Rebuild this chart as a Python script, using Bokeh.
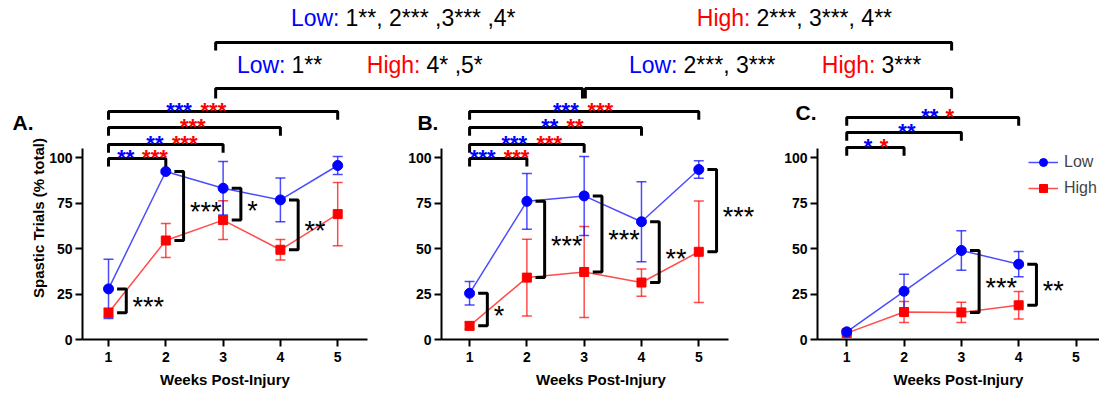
import math
from bokeh.plotting import figure
from bokeh.models import (ColumnDataSource, Whisker, TeeHead, FixedTicker, Range1d,
                          Label, Legend, LegendItem, Title, GridBox)
from bokeh.embed import file_html
from bokeh.resources import INLINE

# ------------------------------------------------------------------ data
weeks_ab = [1, 2, 3, 4, 5]
weeks_c = [1, 2, 3, 4]

a_low = [27.8, 92.3, 83.1, 76.7, 95.6]
a_low_err = [16.3, 1.0, 14.7, 12.0, 4.9]
a_high = [14.7, 54.4, 65.6, 49.3, 68.9]
a_high_err = [2.5, 9.4, 10.7, 5.6, 17.4]

b_low = [25.4, 75.9, 78.9, 64.7, 93.4]
b_low_err = [6.4, 15.3, 21.7, 22.0, 4.8]
b_high = [7.5, 34.0, 37.1, 31.3, 48.2]
b_high_err = [2.0, 21.1, 25.0, 7.5, 27.9]

c_low = [4.2, 26.5, 48.9, 41.4]
c_low_err = [1.0, 9.4, 10.8, 6.9]
c_high = [3.5, 15.1, 14.9, 18.8]
c_high_err = [1.0, 5.8, 5.6, 7.6]

y_ticks = [0, 25, 50, 75, 100]
x_ticks = [1, 2, 3, 4, 5]
series_names = ["Low", "High"]
panel_names = ["A.", "B.", "C."]
x_title = "Weeks Post-Injury"
y_title = "Spastic Trials (% total)"

# Low vs High at each week
a_cmp_weeks = [1, 2, 3, 4]
a_cmp_stars = ["***", "***", "*", "**"]
b_cmp_weeks = [1, 2, 3, 4, 5]
b_cmp_stars = ["*", "***", "***", "**", "***"]
c_cmp_weeks = [3, 4]
c_cmp_stars = ["***", "**"]

# each week vs week 1 (end week, Low stars, High stars)
a_vs1_end = [5, 4, 3, 2]
a_vs1_low = ["***", "", "**", "**"]
a_vs1_high = ["***", "***", "***", "***"]
b_vs1_end = [5, 4, 3, 2]
b_vs1_low = ["***", "**", "***", "***"]
b_vs1_high = ["***", "**", "***", "***"]
c_vs1_end = [4, 3, 2]
c_vs1_low = ["**", "**", "*"]
c_vs1_high = ["*", "", "*"]

# comparisons between panels
top_low_text = "1**, 2*** ,3*** ,4*"
top_high_text = "2***, 3***, 4**"
ab_low_text = "1**"
ab_high_text = "4* ,5*"
bc_low_text = "2***, 3***"
bc_high_text = "3***"

# ------------------------------------------------------------------ style / layout
BLUE = "#0000ff"
RED = "#ff0000"
FONT = "Liberation Sans"
TOTAL_W = 1099
TOTAL_H = 393
PANEL_TOP = 96         # panels start here ...
TOP_H = 140            # ... and the top band (drawn underneath) ends here
BORDER_BOTTOM = 54
PX_PER_UNIT = 1.82     # vertical pixels per % point
FRAME_BOTTOM = TOTAL_H - BORDER_BOTTOM
Y_END = (FRAME_BOTTOM - PANEL_TOP) / PX_PER_UNIT

layout_a = dict(fig_left=0, width=377, bl=82, br=10, xs=0.546, xe=5.52, ax_end=5.52)
layout_b = dict(fig_left=377, width=383, bl=64, br=0, xs=0.51, xe=6.077, ax_end=5.52)
layout_c = dict(fig_left=760, width=339, bl=57, br=0, xs=0.49, xe=5.41, ax_end=5.41)

# bracket levels (value units) and label centres (week units)
levels_ab = [125.3, 116.5, 107.1, 99.5]
levels_c = [122.0, 113.7, 105.5]
a_lab_low_x = [2.23, None, 1.81, 1.30]
a_lab_high_x = [2.83, 2.47, 2.33, 1.81]
b_lab_low_x = [2.68, 2.40, 1.78, 1.23]
b_lab_high_x = [3.28, 2.84, 2.39, 1.82]
c_lab_low_x = [2.45, 2.05, 1.37]
c_lab_high_x = [2.80, None, 1.65]
name_pos_a = (-0.676, 119.2)
name_pos_b = (0.09, 119.2)
name_pos_c = (0.106, 124.7)

# ------------------------------------------------------------------ top band
top = figure(width=TOTAL_W, height=TOP_H, x_range=Range1d(0, TOTAL_W),
             y_range=Range1d(TOP_H, 0), toolbar_location=None, output_backend="svg",
             min_border=0)
top.frame_align = False
top.axis.visible = False
top.grid.visible = False
top.outline_line_color = None
top.background_fill_color = None
top.border_fill_color = None


def gx(lay, week):
    fw = lay["width"] - lay["bl"] - lay["br"]
    return lay["fig_left"] + lay["bl"] + (week - lay["xs"]) * fw / (lay["xe"] - lay["xs"])


def gy(val):
    return FRAME_BOTTOM - val * PX_PER_UNIT


def add_series(p, weeks, vals, errs, color, marker, size):
    src = ColumnDataSource(dict(x=weeks, y=vals,
                                up=[v + e for v, e in zip(vals, errs)],
                                lo=[v - e for v, e in zip(vals, errs)]))
    ln = p.line("x", "y", source=src, line_color=color, line_width=1.5, line_alpha=0.7)
    head = dict(size=10, line_color=color, line_width=1.5, line_alpha=0.7)
    w = Whisker(source=src, base="x", upper="up", lower="lo", dimension="height",
                line_color=color, line_width=1.5, line_alpha=0.7,
                upper_head=TeeHead(**head), lower_head=TeeHead(**head))
    p.add_layout(w)
    sc = p.scatter("x", "y", source=src, marker=marker, size=size,
                   fill_color=color, line_color=color)
    return ln, sc


def make_panel(lay, name, name_pos, weeks, low, low_err, high, high_err,
               cmp_weeks, cmp_stars, vs1_end, vs1_low, vs1_high,
               levels, lab_low_x, lab_high_x, with_ytitle, with_legend):
    p = figure(width=lay["width"], height=TOTAL_H - PANEL_TOP,
               x_range=Range1d(lay["xs"], lay["xe"]), y_range=Range1d(0, Y_END),
               toolbar_location=None, output_backend="svg",
               min_border_left=lay["bl"], min_border_right=lay["br"],
               min_border_top=0, min_border_bottom=BORDER_BOTTOM)
    p.frame_align = False
    p.outline_line_color = None
    p.grid.visible = False
    p.background_fill_color = None
    p.border_fill_color = None

    for ax in (p.xaxis[0], p.yaxis[0]):
        ax.axis_line_width = 2
        ax.axis_line_color = "black"
        ax.major_tick_line_width = 2
        ax.major_tick_line_color = "black"
        ax.major_tick_out = 7
        ax.major_tick_in = 0
        ax.minor_tick_out = 0
        ax.minor_tick_in = 0
        ax.major_label_text_font = FONT
        ax.major_label_text_font_style = "bold"
        ax.major_label_text_font_size = "14px"
        ax.major_label_text_color = "black"
    p.yaxis.ticker = FixedTicker(ticks=y_ticks)
    p.yaxis.bounds = (0, 105)
    p.yaxis.major_label_standoff = 3
    p.xaxis.ticker = FixedTicker(ticks=x_ticks)
    p.xaxis.bounds = (lay["xs"], lay["ax_end"])
    p.xaxis.major_label_standoff = 5
    p.xaxis.axis_label = x_title
    p.xaxis.axis_label_text_font = FONT
    p.xaxis.axis_label_text_font_style = "bold"
    p.xaxis.axis_label_text_font_size = "15px"
    p.xaxis.axis_label_text_color = "black"
    p.xaxis.axis_label_standoff = 6

    h_line, h_sc = add_series(p, weeks, high, high_err, RED, "square", 9)
    l_line, l_sc = add_series(p, weeks, low, low_err, BLUE, "circle", 10)

    # Low vs High brackets
    xs, ys = [], []
    lowd = dict(zip(weeks, low))
    highd = dict(zip(weeks, high))
    for w, st in zip(cmp_weeks, cmp_stars):
        t, b = lowd[w], highd[w]
        xs.append([w + 0.15, w + 0.31, w + 0.31, w + 0.15])
        ys.append([t, t, b, b])
        mid = (t + b) / 2
        p.add_layout(Label(x=w + 0.42, y=mid - 3.5, text=st, text_align="left",
                           text_baseline="alphabetic", text_font=FONT,
                           text_font_size="27px", text_color="black"))
    p.multi_line(xs, ys, line_color="black", line_width=3)

    # each week vs week 1
    bxs, bys = [], []
    for end, lev, lt, ht, lx, hx in zip(vs1_end, levels, vs1_low, vs1_high, lab_low_x, lab_high_x):
        bxs.append([1, 1, end, end])
        bys.append([lev - 4.5, lev, lev, lev - 4.5])
        for txt, lxx, col in ((lt, lx, BLUE), (ht, hx, RED)):
            if txt:
                p.add_layout(Label(x=lxx, y=lev + 0.66, text=txt, text_align="center",
                                   text_baseline="alphabetic", text_font=FONT,
                                   text_font_style="bold", text_font_size="22px",
                                   text_color=col))
    p.multi_line(bxs, bys, line_color="black", line_width=3)

    # panel letter (left of the y axis, drawn in the band underneath)
    top.add_layout(Label(x=gx(lay, name_pos[0]), y=gy(name_pos[1]), text=name,
                         text_align="left", text_baseline="alphabetic", text_font=FONT,
                         text_font_style="bold", text_font_size="21px",
                         text_color="black"))
    if with_ytitle:
        p.add_layout(Title(text=y_title, align="center", offset=-21, standoff=0,
                           text_font=FONT, text_font_style="bold",
                           text_font_size="15px", text_color="black"), "left")
    if with_legend:
        lg = Legend(items=[LegendItem(label=series_names[0], renderers=[l_line, l_sc]),
                           LegendItem(label=series_names[1], renderers=[h_line, h_sc])],
                    location=(211, 141), glyph_width=30, glyph_height=20,
                    label_height=20, label_standoff=6, spacing=6, padding=5, margin=0,
                    label_text_font=FONT, label_text_font_size="16px",
                    border_line_color=None, background_fill_alpha=0)
        p.add_layout(lg)
    return p


pa = make_panel(layout_a, panel_names[0], name_pos_a, weeks_ab, a_low, a_low_err, a_high,
                a_high_err, a_cmp_weeks, a_cmp_stars, a_vs1_end, a_vs1_low, a_vs1_high,
                levels_ab, a_lab_low_x, a_lab_high_x, True, False)
pb = make_panel(layout_b, panel_names[1], name_pos_b, weeks_ab, b_low, b_low_err, b_high,
                b_high_err, b_cmp_weeks, b_cmp_stars, b_vs1_end, b_vs1_low, b_vs1_high,
                levels_ab, b_lab_low_x, b_lab_high_x, False, False)
pc = make_panel(layout_c, panel_names[2], name_pos_c, weeks_c, c_low, c_low_err, c_high,
                c_high_err, c_cmp_weeks, c_cmp_stars, c_vs1_end, c_vs1_low, c_vs1_high,
                levels_c, c_lab_low_x, c_lab_high_x, False, True)

# ------------------------------------------------------------------ comparisons between panels
xa, xb_l, xb_r, xc = gx(layout_a, 2.87), gx(layout_b, 2.97), gx(layout_b, 3.02), gx(layout_c, 2.83)
top.multi_line([[xa, xa, xc, xc], [xa, xa, xb_l, xb_l], [xb_r, xb_r, xc, xc]],
               [[50, 42, 42, 50], [98, 88, 88, 98], [98, 88, 88, 98]],
               line_color="black", line_width=3)


def pair(x_colon, y, word, color, rest):
    top.add_layout(Label(x=x_colon, y=y, text=word, text_align="right",
                         text_baseline="alphabetic", text_font=FONT,
                         text_font_size="23px", text_color=color))
    top.add_layout(Label(x=x_colon + 6, y=y, text=rest, text_align="left",
                         text_baseline="alphabetic", text_font=FONT,
                         text_font_size="23px", text_color="black"))


pair(339, 17, "Low:", BLUE, top_low_text)
pair(750, 17, "High:", RED, top_high_text)
pair(285, 64, "Low:", BLUE, ab_low_text)
pair(420, 64, "High:", RED, ab_high_text)
pair(677, 64, "Low:", BLUE, bc_low_text)
pair(875, 64, "High:", RED, bc_high_text)

# top band spans grid rows 0-1, panels span rows 1-2 (overlapping, transparent)
grid = GridBox(children=[(top, 0, 0, 2, 3), (pa, 1, 0, 2, 1), (pb, 1, 1, 2, 1), (pc, 1, 2, 2, 1)],
               rows=[f"{PANEL_TOP}px", f"{TOP_H - PANEL_TOP}px",
                     f"{TOTAL_H - TOP_H}px"],
               cols=[f"{layout_a['width']}px", f"{layout_b['width']}px",
                     f"{layout_c['width']}px"],
               spacing=0)
open("out.html", "w").write(file_html(grid, INLINE))
